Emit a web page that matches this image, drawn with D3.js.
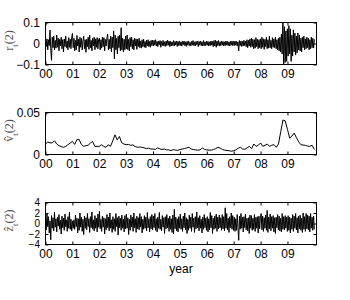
<!DOCTYPE html>
<html><head><meta charset="utf-8">
<script src="https://cdn.jsdelivr.net/npm/d3@7"></script>
<style>html,body{margin:0;padding:0;background:#fff;}svg{display:block;}</style>
</head><body>
<script>
// ---- data ----
const yearLabels = ["00","01","02","03","04","05","06","07","08","09"];
const seriesStart = 2000, seriesEnd = 2010;

// r_t(2): returns, ~3 readings per month
const rValues = [
0.01,-0.015,0.022,-0.03,0.018,-0.01,0.064,-0.025,-0.08,0.03,-0.02,0.035,-0.03,0.015,-0.022,0.04,-0.018,0.025,-0.035,0.02,-0.012,0.03,-0.025,0.018,-0.04,0.022,-0.015,0.035,-0.02,0.012,-0.03,0.028,-0.018,0.02,-0.025,0.03,
0.048,-0.02,0.025,-0.035,0.015,-0.03,0.038,-0.012,0.02,-0.04,0.03,-0.018,0.025,-0.03,0.012,0.035,-0.025,0.018,-0.042,0.02,-0.015,0.03,-0.028,0.04,-0.02,0.015,-0.035,0.025,-0.012,0.03,-0.03,0.022,-0.018,0.028,-0.025,0.02,
0.025,-0.03,0.018,-0.022,0.03,-0.015,0.028,-0.035,0.02,-0.012,0.025,0.045,-0.03,0.02,-0.025,0.035,-0.04,0.03,-0.02,0.06,-0.073,0.04,-0.03,0.025,-0.05,0.035,-0.02,0.04,-0.035,0.075,-0.03,0.025,-0.04,0.02,-0.03,0.035,
-0.025,0.04,-0.03,0.02,-0.035,0.028,-0.015,0.03,-0.025,0.018,-0.03,0.025,-0.012,0.022,-0.028,0.02,-0.015,0.025,-0.02,0.012,-0.022,0.018,-0.015,0.02,-0.018,0.01,-0.02,0.016,-0.012,0.018,-0.015,0.01,-0.018,0.015,-0.01,0.016,
-0.012,0.015,-0.008,0.018,-0.012,0.01,-0.015,0.012,-0.006,0.014,-0.018,0.01,-0.01,0.015,-0.012,0.008,-0.014,0.012,-0.01,0.016,-0.008,0.012,-0.015,0.01,-0.012,0.008,-0.01,0.014,-0.012,0.01,-0.008,0.012,-0.014,0.01,-0.01,0.012,
-0.01,0.008,-0.012,0.01,-0.006,0.012,-0.01,0.008,-0.014,0.01,-0.008,0.012,-0.01,0.006,-0.012,0.01,-0.008,0.014,-0.01,0.008,-0.012,0.01,-0.006,0.012,-0.015,0.01,-0.008,0.012,-0.01,0.008,-0.012,0.014,-0.01,0.008,-0.01,0.012,
-0.008,0.01,-0.012,0.008,-0.01,0.012,-0.008,0.01,-0.015,0.014,-0.012,0.016,-0.018,0.012,-0.01,0.014,-0.012,0.008,-0.01,0.012,-0.008,0.01,-0.012,0.008,-0.01,0.012,-0.008,0.01,-0.01,0.008,-0.012,0.01,-0.008,0.012,-0.01,0.01,
-0.01,0.012,-0.008,0.01,-0.012,0.008,-0.035,0.014,-0.01,0.012,-0.014,0.01,-0.012,0.015,-0.01,0.012,-0.015,0.018,-0.02,0.015,-0.012,0.022,-0.018,0.025,-0.015,0.02,-0.025,0.018,-0.022,0.028,-0.015,0.02,-0.025,0.018,-0.02,0.022,
-0.025,0.03,-0.018,0.022,-0.028,0.02,-0.015,0.03,-0.025,0.018,-0.022,0.035,-0.02,0.015,-0.025,0.028,-0.018,0.022,-0.02,0.03,-0.025,0.018,-0.03,0.025,-0.035,0.03,-0.04,0.045,-0.05,0.12,-0.11,0.08,-0.09,0.06,-0.085,0.07,
-0.06,0.085,-0.05,0.07,-0.085,0.04,-0.06,0.065,-0.04,0.05,-0.055,0.035,-0.045,0.05,-0.03,0.04,-0.035,0.025,-0.04,0.03,-0.02,0.035,-0.03,0.022,-0.025,0.03,-0.02,0.025,-0.03,0.018,-0.025,0.03,-0.02,0.025,-0.022,0.02
];

// v̂_t(2): volatility, monthly
const vValues = [
0.0125,0.0148,0.014,0.0137,0.0164,0.0125,0.0105,0.0095,0.0086,0.0095,0.0117,0.0135,
0.0156,0.012,0.0176,0.018,0.012,0.0097,0.0105,0.011,0.0135,0.0156,0.0097,0.0097,
0.0097,0.0117,0.0095,0.0086,0.0117,0.0097,0.016,0.0234,0.0175,0.0215,0.014,0.0125,
0.0117,0.012,0.0109,0.0115,0.0095,0.0086,0.009,0.0086,0.008,0.007,0.0075,0.0065,
0.0065,0.006,0.0078,0.0068,0.006,0.0066,0.0055,0.0055,0.0047,0.0058,0.0052,0.005,
0.0059,0.0065,0.007,0.0078,0.0086,0.0065,0.0059,0.0055,0.0051,0.0055,0.0078,0.006,
0.0055,0.0052,0.0051,0.006,0.007,0.0086,0.0075,0.0059,0.0052,0.0047,0.0045,0.0039,
0.0045,0.0055,0.0075,0.0086,0.0065,0.0062,0.008,0.0097,0.007,0.0125,0.0097,0.011,
0.0137,0.0097,0.011,0.0125,0.0097,0.011,0.0117,0.0086,0.0125,0.0273,0.041,0.040,
0.030,0.0195,0.022,0.0254,0.020,0.015,0.0117,0.0112,0.0109,0.010,0.0097,0.011,
0.0059
];

// ẑ_t(2): standardized residuals, ~3 readings per month
const zValues = [
0.8,-1.2,2.0,-0.6,1.3,-1.8,0.5,-3.1,1.5,-0.9,1.1,-1.4,2.1,-0.7,0.9,-1.6,1.2,-0.5,1.7,-1.1,0.6,-2.0,1.4,-0.8,1.0,-1.3,1.8,-0.6,0.7,-1.5,1.3,-0.9,2.2,-1.1,0.8,-1.4,
0.5,-0.9,0.7,-1.1,1.6,-0.6,1.0,-1.8,0.9,-1.3,2.0,-0.7,1.2,-1.5,0.8,-2.1,1.4,-0.9,1.1,-1.2,1.9,-0.6,0.9,-1.7,1.3,-0.8,2.2,-1.1,0.7,-1.4,1.5,-0.9,1.0,-1.6,1.8,-0.7,
2.3,-1.0,0.8,-1.5,1.4,-0.7,1.1,-2.0,0.9,-1.2,1.7,-0.8,1.2,-1.4,2.0,-0.9,0.7,-1.7,1.3,-1.1,0.9,-1.5,1.9,-0.6,1.1,-2.2,1.4,-0.8,1.0,-1.3,1.6,-0.9,0.8,-1.6,1.5,-1.0,
1.8,-0.9,1.1,-2.1,0.8,-1.3,1.6,-0.7,1.2,-1.5,2.0,-0.8,0.9,-1.7,1.4,-1.0,1.1,-1.2,1.9,-0.7,1.3,-1.8,0.8,-1.1,1.5,-0.9,1.2,-1.4,2.1,-0.8,0.9,-1.6,1.3,-1.0,1.7,-1.2,
1.4,-0.8,1.9,-1.3,0.9,-1.6,1.2,-0.9,2.1,-1.1,0.8,-1.4,1.5,-0.7,1.1,-1.9,1.3,-1.0,1.7,-0.8,1.0,-1.5,1.4,-1.1,0.9,-1.7,1.6,-2.0,2.7,-1.0,1.2,-1.4,0.9,-1.6,1.3,-0.9,
1.8,-1.1,0.9,-1.5,1.4,-0.8,2.0,-1.2,1.1,-1.9,0.8,-1.3,1.6,-0.9,1.2,-1.5,1.9,-0.7,1.0,-1.7,1.3,-1.0,2.2,-0.8,1.1,-1.4,1.5,-0.9,0.8,-1.8,1.2,-1.1,1.7,-0.8,1.0,-1.3,
1.3,-1.6,0.9,-1.2,2.1,-0.8,1.5,-1.9,1.0,-1.1,1.4,-0.9,1.8,-1.5,1.2,-1.0,1.6,-0.8,1.1,-1.3,1.7,-1.0,1.3,-1.4,3.0,-0.9,1.9,-1.2,1.0,-1.7,1.3,-0.8,2.0,-1.1,1.5,-1.3,
1.2,-1.5,0.9,-1.3,1.7,-0.8,-3.2,1.4,-1.1,1.9,-0.9,1.2,-1.6,1.3,-0.8,1.8,-1.2,1.0,-1.4,1.1,-1.9,1.6,-0.9,1.5,-1.3,1.0,-1.1,1.7,-1.5,1.2,-0.9,1.3,-1.8,1.4,-1.0,1.2,
1.9,-1.2,1.4,-1.5,1.1,-0.9,1.6,-1.3,2.5,-1.7,1.2,-1.0,1.8,-1.4,1.3,-0.9,1.5,-1.6,1.1,-1.9,1.2,-0.8,1.7,-1.2,1.4,-1.4,1.0,-1.6,1.9,-1.1,1.3,-1.2,1.5,-0.9,1.2,-1.5,
1.5,-1.3,1.2,-1.8,1.0,-1.1,1.7,-1.5,1.4,-0.9,1.9,-1.2,1.1,-1.8,1.4,-1.0,1.6,-1.3,1.0,-1.7,2.0,-1.1,1.3,-1.5,1.9,-1.0,1.6,-1.2,1.4,-1.6,1.9,-0.9,1.2,-1.3,1.4,-1.1
];

const rTicks = [-0.1, 0, 0.1];
const vTicks = [0, 0.05];
const zTicks = [-4, -2, 0, 2, 4];

// ---- drawing ----
const W = 350, H = 300;
const left = 45.5, right = 316.5, panelH = 42;
const svg = d3.select("body").append("svg").attr("width", W).attr("height", H)
  .style("font-family", "'Liberation Sans', Arial, Helvetica, sans-serif");

const x = d3.scaleLinear().domain([2000, 2010.08]).range([left, right]);
const yearTicks = d3.range(2000, 2010);

function panel(id, top, domain, ticks, fmt, values, label, lw, yFont) {
  const bottom = top + panelH;
  const y = d3.scaleLinear().domain(domain).range([bottom, top]);
  const g = svg.append("g");
  g.append("clipPath").attr("id", "clip" + id)
    .append("rect").attr("x", left).attr("y", top).attr("width", right - left).attr("height", panelH);

  const t = d3.scaleLinear().domain([0, values.length - 1]).range([seriesStart, seriesEnd]);
  const line = d3.line().x((d, i) => x(t(i))).y(d => y(d));
  g.append("path").datum(values)
    .attr("clip-path", `url(#clip${id})`)
    .attr("fill", "none").attr("stroke", "#000").attr("stroke-width", lw)
    .attr("stroke-linejoin", "round")
    .attr("d", line);

  const xb = d3.axisBottom(x).tickValues(yearTicks).tickSize(-3).tickPadding(4.5)
    .tickFormat((d, i) => yearLabels[i]);
  const xt = d3.axisTop(x).tickValues(yearTicks).tickSize(-3).tickFormat("");
  const yl = d3.axisLeft(y).tickValues(ticks).tickSize(-3).tickPadding(5.5).tickFormat(fmt);
  const yr = d3.axisRight(y).tickValues(ticks).tickSize(-3).tickFormat("");
  [
    [xb, `translate(0,${bottom})`, 12],
    [xt, `translate(0,${top})`, 12],
    [yl, `translate(${left},0)`, yFont],
    [yr, `translate(${right},0)`, 12]
  ].forEach(([ax, tr, fs]) => {
    const a = g.append("g").attr("transform", tr).call(ax);
    a.select(".domain").remove();
    a.selectAll("line").attr("stroke", "#000").attr("stroke-width", 1);
    a.selectAll("text").attr("fill", "#000").style("font-size", fs + "px");
  });
  g.append("rect").attr("x", left).attr("y", top).attr("width", right - left).attr("height", panelH)
    .attr("fill", "none").attr("stroke", "#000").attr("stroke-width", 1);

  const lt = g.append("text")
    .attr("transform", `translate(13,${(top + bottom) / 2 - 3}) rotate(-90)`)
    .attr("text-anchor", "middle")
    .style("font-family", "'Liberation Serif', 'DejaVu Serif', serif")
    .style("font-size", "12px").attr("fill", "#555");
  lt.append("tspan").text(label);
  lt.append("tspan").attr("baseline-shift", "sub").style("font-size", "9px").text("t");
  lt.append("tspan").text("(2)");
}

const minusFmt = d => d3.format("")(d).replace("-", "\u2212");
panel("r", 22.5, [-0.1, 0.1], rTicks, d => d === 0 ? "0" : minusFmt(d), rValues, "r", 1, 12);
panel("v", 112.5, [0, 0.05], vTicks, d => d === 0 ? "0" : "0.05", vValues, "v\u0302", 1, 12);
panel("z", 202.5, [-4, 4], zTicks, minusFmt, zValues, "z\u0302", 1, 10);

svg.append("text").attr("x", (left + right) / 2).attr("y", 273)
  .attr("text-anchor", "middle").style("font-size", "12px").attr("fill", "#000").text("year");
</script>
</body></html>
